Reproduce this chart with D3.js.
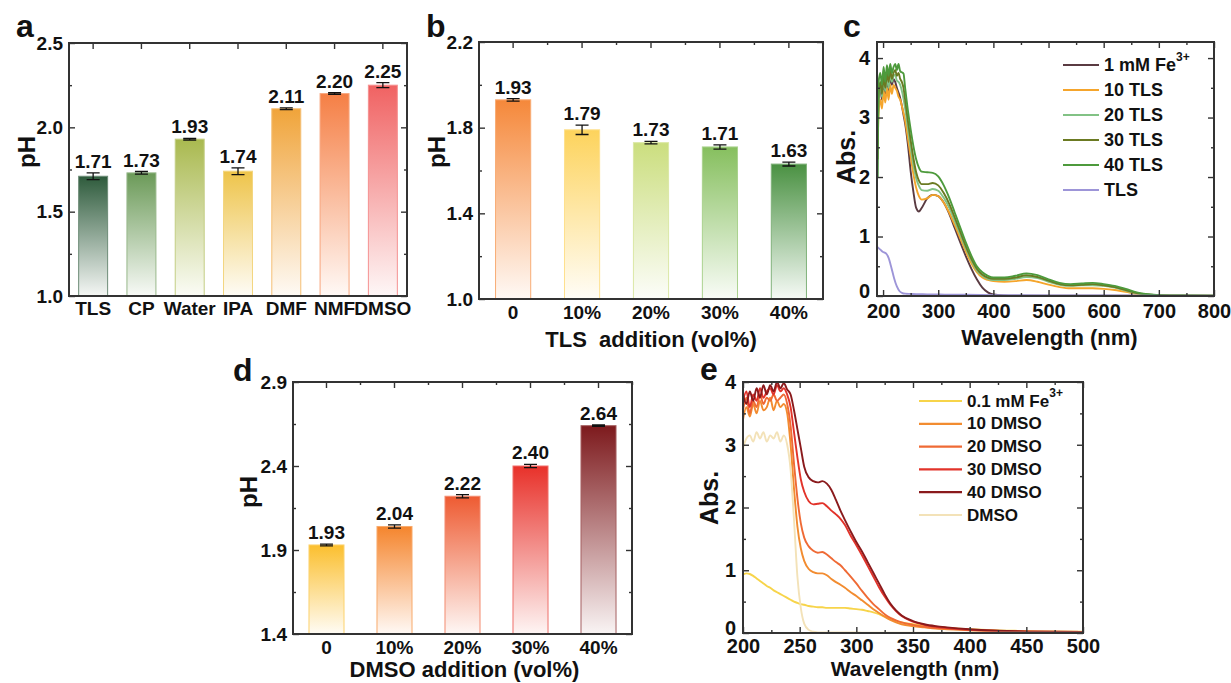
<!DOCTYPE html>
<html>
<head>
<meta charset="utf-8">
<script src="https://cdn.jsdelivr.net/npm/d3@7"></script>
<style>
  body { margin: 0; background: #fff; }
  svg text { font-family: 'Liberation Sans', Arial, Helvetica, sans-serif; font-weight: bold; fill: #111; }
</style>
</head>
<body>
<svg id="fig"></svg>
<script>
// ---------- painel a: pH dos solventes
var solventes = ['TLS', 'CP', 'Water', 'IPA', 'DMF', 'NMF', 'DMSO'];
var phSolventes = [1.71, 1.73, 1.93, 1.74, 2.11, 2.20, 2.25];
var erroSolventes = [0.02, 0.008, 0.005, 0.02, 0.005, 0.005, 0.015];
var coresSolventes = ['#2e5b3c', '#6b9a58', '#a9b94f', '#eec44a', '#f0a43a', '#f57f45', '#f06262'];

// ---------- painel b: adicao de TLS
var adicaoTLS = ['0', '10%', '20%', '30%', '40%'];
var phTLS = [1.93, 1.79, 1.73, 1.71, 1.63];
var erroTLS = [0.006, 0.022, 0.006, 0.01, 0.009];
var coresTLS = ['#f5883a', '#fdd35c', '#cbde7e', '#86bf5e', '#4a9142'];

// ---------- painel d: adicao de DMSO
var adicaoDMSO = ['0', '10%', '20%', '30%', '40%'];
var phDMSO = [1.93, 2.04, 2.22, 2.40, 2.64];
var erroDMSO = [0.005, 0.01, 0.01, 0.01, 0.004];
var coresDMSO = ['#fbbf2e', '#f5852d', '#ee5b32', '#e8312a', '#7d1a1d'];

// ---------- painel c: espectros UV-vis com TLS
var wlC = [190,192,195,198,201,204,207,210,213,216,219,222,225,228,231,234,237,240,245,250,
           255,260,265,270,280,290,300,310,320,330,340,350,360,370,380,390,400,420,440,460,
           480,500,520,540,560,580,600,620,640,660,680,700,740,800];
var absFe1 = [3.2,3.35,3.5,3.3,3.6,3.4,3.65,3.45,3.7,3.55,3.65,3.6,3.5,3.42,3.33,3.2,3.05,2.9,2.55,2.1,
              1.75,1.48,1.42,1.48,1.64,1.7,1.68,1.57,1.38,1.14,0.9,0.67,0.46,0.28,0.14,0.06,0.025,0.01,0.006,0.005,
              0.004,0.004,0.004,0.004,0.004,0.004,0.004,0.004,0.004,0.004,0.003,0.003,0.002,0.002];
var abs10TLS = [2.5,3.1,3.3,3.15,3.45,3.25,3.5,3.3,3.55,3.4,3.55,3.5,3.45,3.35,3.3,3.2,3.08,2.95,2.65,2.35,
                2.05,1.82,1.68,1.62,1.64,1.7,1.68,1.57,1.4,1.19,0.97,0.75,0.55,0.4,0.31,0.27,0.25,0.24,0.25,0.27,
                0.24,0.19,0.15,0.13,0.13,0.13,0.12,0.1,0.07,0.035,0.015,0.008,0.005,0.003];
var abs20TLS = [2.0,3.3,3.55,3.35,3.65,3.45,3.7,3.5,3.75,3.6,3.7,3.72,3.62,3.6,3.55,3.45,3.32,3.15,2.82,2.5,
                2.2,1.98,1.85,1.78,1.77,1.8,1.77,1.65,1.48,1.26,1.03,0.8,0.6,0.43,0.34,0.29,0.27,0.27,0.29,0.32,
                0.3,0.24,0.19,0.17,0.18,0.18,0.17,0.14,0.09,0.045,0.02,0.01,0.006,0.004];
var abs30TLS = [2.3,3.4,3.6,3.4,3.7,3.5,3.75,3.6,3.8,3.65,3.75,3.8,3.7,3.75,3.65,3.6,3.5,3.3,2.95,2.62,
                2.32,2.08,1.94,1.88,1.88,1.9,1.86,1.73,1.55,1.32,1.08,0.84,0.63,0.46,0.36,0.31,0.29,0.29,0.31,0.35,
                0.32,0.26,0.2,0.18,0.19,0.2,0.18,0.15,0.1,0.05,0.025,0.012,0.008,0.004];
var abs40TLS = [2.0,3.6,3.75,3.55,3.85,3.6,3.88,3.7,3.9,3.75,3.85,3.9,3.8,3.9,3.78,3.76,3.74,3.5,3.12,2.8,
                2.52,2.3,2.16,2.09,2.08,2.07,2.01,1.86,1.65,1.4,1.15,0.9,0.68,0.5,0.4,0.34,0.31,0.31,0.34,0.38,
                0.35,0.28,0.22,0.2,0.21,0.22,0.2,0.17,0.12,0.06,0.03,0.015,0.01,0.005];
var wlTLS = [190,195,200,205,210,215,220,225,230,235,240,250,260,280,300,350,400,500,600,800];
var absTLS = [0.82,0.78,0.74,0.72,0.64,0.48,0.3,0.16,0.08,0.05,0.04,0.035,0.03,0.028,0.025,0.02,0.015,0.01,0.008,0.005];

// ---------- painel e: espectros UV-vis com DMSO
var wlE = [200,203,206,209,212,215,218,221,224,227,230,233,236,239,242,245,248,251,254,258,
           262,266,270,274,278,282,286,290,295,300,305,310,315,320,325,330,335,340,350,360,
           370,380,400,420,440,460,500];
var absFe01 = [0.93,0.95,0.94,0.91,0.87,0.83,0.79,0.75,0.72,0.68,0.65,0.62,0.59,0.56,0.53,0.5,0.48,0.46,0.45,0.43,
               0.42,0.41,0.41,0.4,0.4,0.4,0.4,0.4,0.39,0.38,0.37,0.35,0.33,0.3,0.26,0.22,0.19,0.17,0.14,0.12,
               0.1,0.08,0.06,0.045,0.035,0.025,0.02];
var abs10DMSO = [3.4,3.6,3.45,3.65,3.5,3.7,3.55,3.6,3.75,3.55,3.7,3.6,3.65,3.5,3.0,2.3,1.7,1.35,1.15,1.02,
                 0.97,0.95,0.95,0.92,0.86,0.81,0.77,0.72,0.65,0.59,0.52,0.45,0.38,0.32,0.26,0.21,0.17,0.14,0.11,0.09,
                 0.07,0.06,0.045,0.03,0.022,0.018,0.015];
var abs20DMSO = [3.55,3.75,3.5,3.7,3.6,3.8,3.65,3.75,3.7,3.8,3.7,3.75,3.8,3.65,3.3,2.7,2.15,1.75,1.52,1.38,
                 1.31,1.28,1.29,1.25,1.19,1.13,1.08,1.0,0.9,0.79,0.67,0.56,0.46,0.38,0.3,0.24,0.2,0.17,0.13,0.1,
                 0.08,0.07,0.05,0.035,0.025,0.02,0.015];
var abs30DMSO = [3.7,3.85,3.6,3.8,3.7,3.9,3.75,3.85,3.9,3.8,3.95,3.85,3.9,3.8,3.6,3.2,2.8,2.45,2.25,2.1,
                 2.05,2.06,2.07,2.02,1.95,1.89,1.82,1.72,1.55,1.4,1.24,1.07,0.9,0.73,0.58,0.45,0.35,0.27,0.18,0.13,
                 0.1,0.08,0.05,0.035,0.025,0.02,0.015];
var abs40DMSO = [3.8,3.65,3.85,3.7,3.9,3.75,3.95,3.8,3.95,3.85,4.0,3.9,3.98,3.88,3.8,3.55,3.25,2.95,2.65,2.48,
                 2.42,2.4,2.42,2.38,2.28,2.12,1.95,1.8,1.62,1.45,1.3,1.13,0.96,0.79,0.62,0.47,0.36,0.28,0.19,0.14,
                 0.11,0.09,0.06,0.04,0.03,0.02,0.015];
var absDMSO = [2.95,3.1,3.15,3.05,3.2,3.1,3.2,3.05,3.15,3.1,3.2,3.05,3.15,3.0,2.6,1.8,0.9,0.4,0.15,0.05,
               0.02,0.01,0.008,0.008,0.008,0.008,0.008,0.008,0.008,0.008,0.006,0.006,0.006,0.006,0.006,0.006,0.005,0.005,0.005,0.005,
               0.005,0.005,0.005,0.005,0.005,0.005,0.005];

var svg = d3.select('#fig').attr('width', 1231).attr('height', 683);
var defs = svg.append('defs');

function estiloEixo(g, tamanho) {
  g.select('.domain').remove();
  g.selectAll('.tick line').attr('stroke', '#333').attr('stroke-width', 1.4);
  g.selectAll('text').style('font-size', tamanho + 'px').attr('fill', '#111');
}

function rotulos(p, larg, alt) {
  svg.append('text').attr('x', p.letra[0]).attr('y', p.letra[1])
     .style('font-size', '32px').text(p.id);
  svg.append('text')
     .attr('transform', 'translate(' + p.rotY[0] + ',' + p.rotY[1] + ') rotate(-90)')
     .style('text-anchor', 'middle').attr('dominant-baseline', 'central')
     .style('font-size', p.tamRotY + 'px').text(p.tituloY);
  if (p.tituloX) {
    svg.append('text').attr('x', p.esquerda + larg / 2 + (p.dxTitulo || 0)).attr('y', p.yTituloX)
       .style('text-anchor', 'middle').style('font-size', (p.tamTituloX || 22) + 'px').attr('xml:space', 'preserve')
       .text(p.tituloX);
  }
}

function graficoBarras(p) {
  var larg = p.direita - p.esquerda, alt = p.inferior - p.superior;
  var g = svg.append('g').attr('transform', 'translate(' + p.esquerda + ',' + p.superior + ')');
  var x = d3.scaleBand().domain(p.categorias).range([0, larg]).paddingInner(p.pi).paddingOuter(p.po);
  var y = d3.scaleLinear().domain(p.dominioY).range([alt, 0]);

  p.cores.forEach(function(c, i) {
    var gr = defs.append('linearGradient').attr('id', p.id + 'grad' + i)
                 .attr('x1', 0).attr('y1', 0).attr('x2', 0).attr('y2', 1);
    gr.append('stop').attr('offset', '0%').attr('stop-color', c);
    gr.append('stop').attr('offset', '100%').attr('stop-color', d3.interpolateRgb(c, '#ffffff')(0.95));
  });

  var dados = p.categorias.map((c, i) => ({chave: c, valor: p.valores[i], erro: p.erros[i], i: i}));

  g.selectAll('.barra').data(dados).enter().append('rect')
    .attr('x', d => x(d.chave)).attr('y', d => y(d.valor))
    .attr('width', x.bandwidth()).attr('height', d => alt - y(d.valor))
    .attr('fill', d => 'url(#' + p.id + 'grad' + d.i + ')')
    .attr('stroke', d => d3.interpolateRgb(p.cores[d.i], '#ffffff')(0.3)).attr('stroke-width', 1);

  var cx = d => x(d.chave) + x.bandwidth() / 2;
  var cap = 6.5;
  g.selectAll('.erro').data(dados).enter().append('path')
    .attr('d', d => 'M' + cx(d) + ',' + y(d.valor - d.erro) + 'V' + y(d.valor + d.erro) +
                    'M' + (cx(d) - cap) + ',' + y(d.valor - d.erro) + 'H' + (cx(d) + cap) +
                    'M' + (cx(d) - cap) + ',' + y(d.valor + d.erro) + 'H' + (cx(d) + cap))
    .attr('stroke', '#111').attr('stroke-width', 1.3).attr('fill', 'none');

  g.selectAll('.rotulo').data(dados).enter().append('text')
    .attr('x', cx).attr('y', d => y(d.valor + d.erro) - 5)
    .style('text-anchor', 'middle').style('font-size', '19px')
    .text(d => d.valor.toFixed(2));

  var fmt = d3.format('.1f');
  var eL = g.append('g').call(d3.axisLeft(y).tickValues(p.ticksY).tickSize(-6).tickPadding(6).tickFormat(fmt));
  estiloEixo(eL, 19);
  estiloEixo(g.append('g').call(d3.axisLeft(y).tickValues(p.ticksYmenor).tickSize(-3).tickFormat('')), 0);
  estiloEixo(g.append('g').attr('transform', 'translate(' + larg + ',0)')
              .call(d3.axisRight(y).tickValues(p.ticksY).tickSize(-6).tickFormat('')), 0);
  estiloEixo(g.append('g').attr('transform', 'translate(' + larg + ',0)')
              .call(d3.axisRight(y).tickValues(p.ticksYmenor).tickSize(-3).tickFormat('')), 0);
  estiloEixo(g.append('g').call(d3.axisTop(x).tickSize(-6).tickFormat('')), 0);
  if (p.menorTopo) {
    var meios = p.categorias.map(c => x(c) + x.bandwidth() / 2 + x.step() / 2);
    g.selectAll('.menor').data(meios).enter().append('line')
      .attr('x1', d => d).attr('x2', d => d).attr('y1', 0).attr('y2', 3)
      .attr('stroke', '#333').attr('stroke-width', 1.4);
  }
  var eB = g.append('g').attr('transform', 'translate(0,' + alt + ')')
            .call(d3.axisBottom(x).tickSize(0).tickPadding(p.padX));
  estiloEixo(eB, 19);

  g.append('rect').attr('width', larg).attr('height', alt)
   .attr('fill', 'none').attr('stroke', '#333').attr('stroke-width', 2);

  rotulos(p, larg, alt);
}

function graficoEspectros(p) {
  var larg = p.direita - p.esquerda, alt = p.inferior - p.superior;
  var g = svg.append('g').attr('transform', 'translate(' + p.esquerda + ',' + p.superior + ')');
  var x = d3.scaleLinear().domain(p.dominioX).range([0, larg]);
  var y = d3.scaleLinear().domain(p.dominioY).range([alt, 0]);

  defs.append('clipPath').attr('id', 'clip' + p.id)
      .append('rect').attr('width', larg).attr('height', alt);

  var linha = d3.line().x(d => x(d[0])).y(d => y(d[1])).curve(d3.curveMonotoneX);
  var curvas = g.append('g').attr('clip-path', 'url(#clip' + p.id + ')');
  p.series.forEach(function(s) {
    var pts = s.wl.map((w, i) => [w, s.abs[i]]);
    curvas.append('path').datum(pts).attr('d', linha)
      .attr('fill', 'none').attr('stroke', s.cor).attr('stroke-width', 1.9)
      .attr('stroke-linejoin', 'round');
  });

  var eB = g.append('g').attr('transform', 'translate(0,' + alt + ')')
            .call(d3.axisBottom(x).tickValues(p.ticksX).tickSize(-6).tickPadding(p.padX).tickFormat(d3.format('d')));
  estiloEixo(eB, 20);
  estiloEixo(g.append('g').attr('transform', 'translate(0,' + alt + ')')
              .call(d3.axisBottom(x).tickValues(p.ticksXmenor).tickSize(-3).tickFormat('')), 0);
  estiloEixo(g.append('g').call(d3.axisTop(x).tickValues(p.ticksX).tickSize(-6).tickFormat('')), 0);
  estiloEixo(g.append('g').call(d3.axisTop(x).tickValues(p.ticksXmenor).tickSize(-3).tickFormat('')), 0);
  var eL = g.append('g').call(d3.axisLeft(y).tickValues(p.ticksY).tickSize(-6).tickPadding(7).tickFormat(d3.format('d')));
  estiloEixo(eL, 20);
  // o "0" fica um pouco acima para nao encostar no primeiro rotulo de x
  eL.selectAll('.tick text').filter(d => d === 0).attr('dy', '0.05em');
  estiloEixo(g.append('g').call(d3.axisLeft(y).tickValues(p.ticksYmenor).tickSize(-3).tickFormat('')), 0);
  estiloEixo(g.append('g').attr('transform', 'translate(' + larg + ',0)')
              .call(d3.axisRight(y).tickValues(p.ticksY).tickSize(-6).tickFormat('')), 0);
  estiloEixo(g.append('g').attr('transform', 'translate(' + larg + ',0)')
              .call(d3.axisRight(y).tickValues(p.ticksYmenor).tickSize(-3).tickFormat('')), 0);

  g.append('rect').attr('width', larg).attr('height', alt)
   .attr('fill', 'none').attr('stroke', '#333').attr('stroke-width', 2);

  // legenda
  var leg = svg.append('g');
  p.series.forEach(function(s, i) {
    var yy = p.legenda.y + i * p.legenda.passo;
    leg.append('line').attr('x1', p.legenda.x1).attr('x2', p.legenda.x2).attr('y1', yy).attr('y2', yy)
       .attr('stroke', s.cor).attr('stroke-width', 2.2);
    var t = leg.append('text').attr('x', p.legenda.x2 + 5).attr('y', yy)
               .attr('dominant-baseline', 'central').style('font-size', p.legenda.fonte + 'px')
               .text(s.nome);
    if (s.sup) {
      t.append('tspan').attr('dy', -8).style('font-size', '12px').text(s.sup);
    }
  });

  rotulos(p, larg, alt);
}

graficoBarras({
  id: 'a', esquerda: 69, direita: 407, superior: 43, inferior: 296,
  categorias: solventes, valores: phSolventes, erros: erroSolventes, cores: coresSolventes,
  pi: 0.4, po: 0.2, dominioY: [1.0, 2.5], ticksY: [1.0, 1.5, 2.0, 2.5], ticksYmenor: [1.25, 1.75, 2.25],
  padX: 6, menorTopo: false,
  letra: [16, 37], rotY: [26, 152], tamRotY: 24, tituloY: 'pH'
});

graficoBarras({
  id: 'b', esquerda: 479, direita: 823, superior: 42, inferior: 299,
  categorias: adicaoTLS, valores: phTLS, erros: erroTLS, cores: coresTLS,
  pi: 0.49, po: 0.24, dominioY: [1.0, 2.2], ticksY: [1.0, 1.4, 1.8, 2.2], ticksYmenor: [1.2, 1.6, 2.0],
  padX: 7, menorTopo: true,
  letra: [426, 37], rotY: [436, 152], tamRotY: 24, tituloY: 'pH',
  tituloX: 'TLS  addition (vol%)', yTituloX: 347
});

graficoBarras({
  id: 'd', esquerda: 293, direita: 632, superior: 382, inferior: 634,
  categorias: adicaoDMSO, valores: phDMSO, erros: erroDMSO, cores: coresDMSO,
  pi: 0.485, po: 0.235, dominioY: [1.4, 2.9], ticksY: [1.4, 1.9, 2.4, 2.9], ticksYmenor: [1.65, 2.15, 2.65],
  padX: 7, menorTopo: true,
  letra: [233, 381], rotY: [248, 492], tamRotY: 24, tituloY: 'pH',
  tituloX: 'DMSO addition (vol%)', yTituloX: 677, dxTitulo: 2
});

graficoEspectros({
  id: 'c', esquerda: 877, direita: 1214, superior: 42, inferior: 296,
  dominioX: [189, 800], dominioY: [0, 4.27],
  ticksX: [200, 300, 400, 500, 600, 700, 800], ticksXmenor: [250, 350, 450, 550, 650, 750],
  ticksY: [0, 1, 2, 3, 4], ticksYmenor: [0.5, 1.5, 2.5, 3.5],
  padX: 8,
  series: [
    {nome: '1 mM Fe', sup: '3+', cor: '#5a3b42', wl: wlC, abs: absFe1},
    {nome: '10 TLS', cor: '#f5a52c', wl: wlC, abs: abs10TLS},
    {nome: '20 TLS', cor: '#82c285', wl: wlC, abs: abs20TLS},
    {nome: '30 TLS', cor: '#6b7a22', wl: wlC, abs: abs30TLS},
    {nome: '40 TLS', cor: '#4d9a3c', wl: wlC, abs: abs40TLS},
    {nome: 'TLS', cor: '#9d95d8', wl: wlTLS, abs: absTLS}
  ],
  legenda: {x1: 1063, x2: 1099, y: 65, passo: 25, fonte: 18},
  letra: [843, 37], rotY: [846, 157], tamRotY: 25, tituloY: 'Abs.',
  tituloX: 'Wavelength (nm)', yTituloX: 345, dxTitulo: 4
});

graficoEspectros({
  id: 'e', esquerda: 743, direita: 1083, superior: 382, inferior: 633,
  dominioX: [200, 500], dominioY: [0, 4],
  ticksX: [200, 250, 300, 350, 400, 450, 500], ticksXmenor: [225, 275, 325, 375, 425, 475],
  ticksY: [0, 1, 2, 3, 4], ticksYmenor: [0.5, 1.5, 2.5, 3.5],
  padX: 6,
  series: [
    {nome: '0.1 mM Fe', sup: '3+', cor: '#f7d44a', wl: wlE, abs: absFe01},
    {nome: '10 DMSO', cor: '#f28c30', wl: wlE, abs: abs10DMSO},
    {nome: '20 DMSO', cor: '#ef6a35', wl: wlE, abs: abs20DMSO},
    {nome: '30 DMSO', cor: '#e2332a', wl: wlE, abs: abs30DMSO},
    {nome: '40 DMSO', cor: '#8a1a1c', wl: wlE, abs: abs40DMSO},
    {nome: 'DMSO', cor: '#f3e2b8', wl: wlE, abs: absDMSO}
  ],
  legenda: {x1: 919, x2: 962, y: 401, passo: 22.8, fonte: 17},
  letra: [700, 380], rotY: [709, 498], tamRotY: 25, tituloY: 'Abs.',
  tituloX: 'Wavelength (nm)', yTituloX: 676, tamTituloX: 21, dxTitulo: 2
});
</script>
</body>
</html>
